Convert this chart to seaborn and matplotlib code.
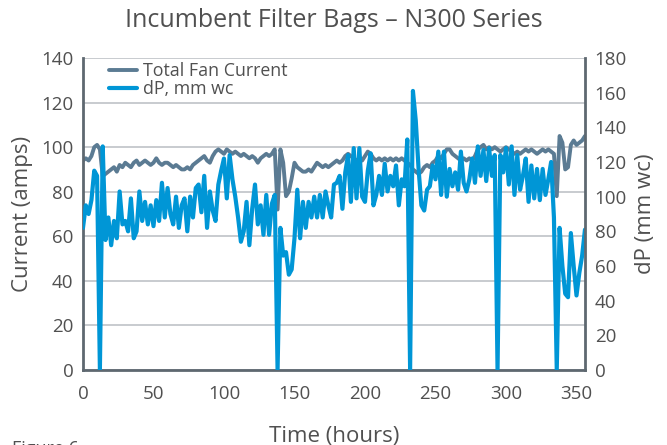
import matplotlib
matplotlib.use("Agg")
import numpy as np
import pandas as pd
import seaborn as sns
import matplotlib.pyplot as plt

# ---------------- data ----------------
hours = np.arange(0, 357, 2)

current_amps = [
    94, 95, 94, 96, 100, 101, 99, 87, 88, 89,
    90, 91, 89, 92, 91, 93, 92, 91, 93, 94,
    92, 93, 94, 93, 92, 93, 95, 93, 92, 93,
    93, 92, 91, 92, 91, 90, 90, 91, 90, 92,
    93, 94, 95, 96, 94, 93, 96, 98, 99, 98,
    97, 99, 98, 97, 98, 97, 96, 97, 96, 95,
    96, 95, 93, 95, 96, 97, 96, 97, 99, 72,
    99, 93, 78, 80, 86, 93, 91, 90, 89, 89,
    90, 89, 91, 93, 92, 91, 92, 91, 92, 93,
    94, 93, 94, 96, 97, 96, 95, 94, 95, 94,
    96, 98, 97, 95, 94, 95, 94, 95, 94, 95,
    94, 95, 94, 95, 94, 93, 92, 90, 89, 88,
    89, 91, 92, 91, 93, 94, 96, 95, 97, 99,
    99, 97, 96, 95, 94, 95, 94, 95, 94, 96,
    99, 100, 101, 99, 100, 99, 100, 99, 98, 99,
    100, 99, 98, 97, 98, 97, 98, 99, 98, 99,
    98, 97, 98, 99, 98, 99, 98, 97, 78, 105,
    102, 90, 91, 101, 103, 101, 102, 103, 105,
]

dp_mmwc = [
    82, 95, 90, 98, 115, 112, 0, 129, 75, 88,
    72, 86, 76, 103, 84, 86, 80, 99, 76, 80,
    103, 86, 97, 84, 95, 83, 98, 86, 108, 88,
    105, 90, 84, 100, 82, 95, 99, 80, 100, 88,
    105, 107, 91, 112, 82, 103, 92, 86, 107, 115,
    122, 99, 124, 110, 100, 88, 74, 80, 97, 72,
    93, 107, 84, 95, 78, 101, 78, 96, 101, 0,
    82, 66, 68, 55, 58, 76, 104, 76, 97, 82,
    97, 88, 100, 88, 101, 88, 103, 95, 88, 107,
    108, 112, 93, 114, 124, 97, 128, 99, 128, 100,
    97, 115, 125, 95, 101, 112, 101, 119, 103, 112,
    106, 118, 95, 110, 106, 133, 0, 161, 144, 116,
    95, 92, 104, 106, 118, 110, 126, 101, 126, 100,
    116, 106, 114, 104, 126, 108, 103, 110, 122, 108,
    129, 112, 127, 109, 128, 112, 124, 0, 124, 114,
    128, 107, 129, 101, 124, 104, 112, 122, 97, 118,
    99, 116, 98, 116, 101, 110, 120, 88, 0, 82,
    60, 44, 42, 79, 60, 43, 56, 66, 81,
]

series_labels = ["Total Fan Current", "dP, mm wc"]
title = "Incumbent Filter Bags \u2013 N300 Series"
x_label = "Time (hours)"
y_left_label = "Current (amps)"
y_right_label = "dP (mm wc)"
x_ticks = [0, 50, 100, 150, 200, 250, 300, 350]
left_ticks = [0, 20, 40, 60, 80, 100, 120, 140]
right_ticks = [0, 20, 40, 60, 80, 100, 120, 140, 160, 180]

# ---------------- style ----------------
GREY = "#5b7b93"
BLUE = "#0096d6"
TEXT = "#505050"
SPINE = "#5e6870"
GRID = "#c4c7cb"

sns.set_theme(style="white")
plt.rcParams['font.family'] = ['Open Sans', 'DejaVu Sans']

df = pd.DataFrame({"hours": hours, "current": current_amps, "dp": dp_mmwc})

fig = plt.figure(figsize=(6.67, 4.45), dpi=100)
ax = fig.add_axes([0.1244, 0.1685, 0.7526, 0.7012])

sns.lineplot(data=df, x="hours", y="current", ax=ax, color=GREY, lw=2.8,
             label=series_labels[0], legend=False)
ax2 = ax.twinx()
sns.lineplot(data=df, x="hours", y="dp", ax=ax2, color=BLUE, lw=3.0,
             label=series_labels[1], legend=False)

ax.set_xlim(0, 356)
ax.set_ylim(0, 140)
ax2.set_ylim(0, 180)
ax.set_xticks(x_ticks)
ax.set_yticks(left_ticks)
ax2.set_yticks(right_ticks)

ax.yaxis.grid(True, color=GRID, lw=1.3)
ax.xaxis.grid(False)
ax.set_axisbelow(True)

for a in (ax, ax2):
    a.tick_params(length=0, labelsize=13.5, labelcolor=TEXT, pad=7)
    a.spines['top'].set_visible(False)
ax.tick_params(axis='x', pad=11)
ax.spines['right'].set_visible(False)
ax2.spines['left'].set_visible(False)
ax2.spines['bottom'].set_visible(False)
for s in ('left', 'bottom'):
    ax.spines[s].set_color(SPINE)
    ax.spines[s].set_linewidth(2)
ax2.spines['right'].set_color(SPINE)
ax2.spines['right'].set_linewidth(2)

ax.set_xlabel(x_label, fontsize=16, color=TEXT, labelpad=16)
ax.set_ylabel(y_left_label, fontsize=16, color=TEXT, labelpad=6)
ax2.set_ylabel(y_right_label, fontsize=16, color=TEXT, labelpad=6)
ax.set_title(title, fontsize=18, color=TEXT, pad=22)

h1, l1 = ax.get_legend_handles_labels()
h2, l2 = ax2.get_legend_handles_labels()
leg = ax2.legend(h1 + h2, l1 + l2, loc='upper left', bbox_to_anchor=(0.03, 1.022),
                 frameon=False, fontsize=12.8, handlelength=1.6, handletextpad=0.35,
                 labelspacing=0.02, borderaxespad=0.2)
for t in leg.get_texts():
    t.set_color(TEXT)

fig.text(0.018, 0.011, "Figure 6", fontsize=13, color=TEXT, va='top', ha='left')

fig.savefig("out.png", dpi=100)
